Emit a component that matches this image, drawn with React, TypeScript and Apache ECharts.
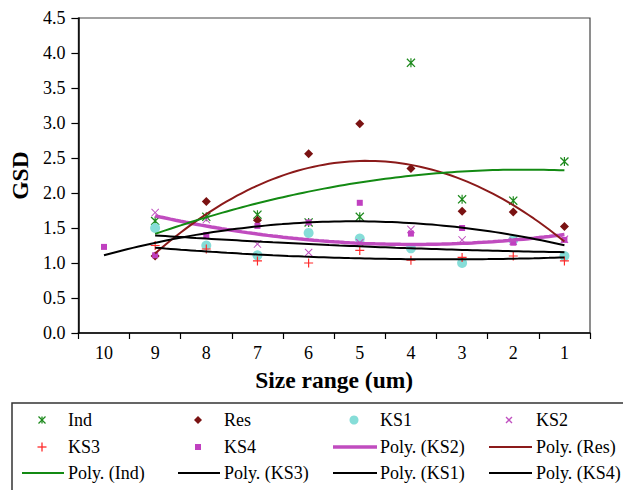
import React, { useEffect, useRef } from 'react';
import * as echarts from 'echarts';

const categories = ['10', '9', '8', '7', '6', '5', '4', '3', '2', '1'];
const indValues = [null, 1.60, 1.66, 1.69, 1.58, 1.66, 3.86, 1.91, 1.89, 2.45];
const resValues = [null, 1.10, 1.88, 1.61, 2.56, 2.99, 2.35, 1.74, 1.73, 1.52];
const ks1Values = [null, 1.50, 1.25, 1.11, 1.43, 1.35, 1.21, 1.00, 1.33, 1.10];
const ks2Values = [null, 1.72, 1.62, 1.27, 1.15, 1.29, 1.48, 1.33, 1.31, 1.34];
const ks3Values = [null, 1.25, 1.20, 1.03, 1.00, 1.18, 1.04, 1.08, 1.10, 1.03];
const ks4Values = [1.23, 1.11, 1.40, 1.53, 1.58, 1.86, 1.42, 1.50, 1.29, 1.33];

const FONT = 'Liberation Serif';

const C_IND = '#1d8a1d';
const C_RES = '#7a1212';
const C_KS1 = '#86ddd8';
const C_KS2 = '#c050c0';
const C_KS3 = '#ff2a2a';
const C_KS4 = '#c040c0';
const C_TKS2 = '#c04cbf';
const C_TRES = '#8b1a1a';
const C_TIND = '#138a13';

const STAR = 'path://M0,1L1,0L5,4L9,0L10,1L6,5L10,9L9,10L5,6L1,10L0,9L4,5ZM4.35,0H5.65V10H4.35Z';
const CROSS = 'path://M0,0.9L0.9,0L5,4.1L9.1,0L10,0.9L5.9,5L10,9.1L9.1,10L5,5.9L0.9,10L0,9.1L4.1,5Z';
const PLUS = 'path://M4.35,0H5.65V4.35H10V5.65H5.65V10H4.35V5.65H0V4.35H4.35Z';

function toPoints(vals: (number | null)[]) {
  const pts: number[][] = [];
  vals.forEach((v, i) => {
    if (v != null) pts.push([i + 0.5, v]);
  });
  return pts;
}

function det3(m: number[][]) {
  return (
    m[0][0] * (m[1][1] * m[2][2] - m[1][2] * m[2][1]) -
    m[0][1] * (m[1][0] * m[2][2] - m[1][2] * m[2][0]) +
    m[0][2] * (m[1][0] * m[2][1] - m[1][1] * m[2][0])
  );
}

// Excel-style order-2 polynomial trendline computed from the series values
function polyTrend(vals: (number | null)[]) {
  const pts = toPoints(vals);
  let s0 = 0, s1 = 0, s2 = 0, s3 = 0, s4 = 0, t0 = 0, t1 = 0, t2 = 0;
  for (const [x, y] of pts) {
    s0 += 1; s1 += x; s2 += x * x; s3 += x * x * x; s4 += x * x * x * x;
    t0 += y; t1 += x * y; t2 += x * x * y;
  }
  const M = [[s0, s1, s2], [s1, s2, s3], [s2, s3, s4]];
  const D = det3(M);
  const rhs = [t0, t1, t2];
  const coef = [0, 1, 2].map((k) => {
    const mk = M.map((row, r) => row.map((v, c) => (c === k ? rhs[r] : v)));
    return det3(mk) / D;
  });
  const x0 = pts[0][0];
  const x1 = pts[pts.length - 1][0];
  const out: number[][] = [];
  const steps = 80;
  for (let i = 0; i <= steps; i++) {
    const x = x0 + ((x1 - x0) * i) / steps;
    out.push([x, coef[0] + coef[1] * x + coef[2] * x * x]);
  }
  return out;
}

// legend layout (custom, Excel-like 4-column table)
const legendColText = [68, 224, 380, 536];
const legendColMarker = [42, 198, 354, 509];
const legendColLine = [[22, 64], [178, 220], [333, 377], [489, 532]];
const legendRowY = [420, 447, 473];

function legendText(text: string, col: number, row: number) {
  return {
    type: 'text',
    x: legendColText[col],
    y: legendRowY[row],
    style: { text, fontFamily: FONT, fontSize: 18, fill: '#000', verticalAlign: 'middle', align: 'left' },
  };
}
function legendLine(col: number, row: number, color: string, width: number) {
  const [a, b] = legendColLine[col];
  return {
    type: 'line',
    shape: { x1: a, y1: legendRowY[row], x2: b, y2: legendRowY[row] },
    style: { stroke: color, lineWidth: width },
  };
}
function legendX(col: number, row: number, color: string, r: number, withVertical: boolean, withDiag: boolean, withPlus: boolean) {
  const cx = legendColMarker[col];
  const cy = legendRowY[row];
  const children: any[] = [];
  if (withDiag) {
    children.push({ type: 'line', shape: { x1: cx - r, y1: cy - r, x2: cx + r, y2: cy + r }, style: { stroke: color, lineWidth: 1.3 } });
    children.push({ type: 'line', shape: { x1: cx + r, y1: cy - r, x2: cx - r, y2: cy + r }, style: { stroke: color, lineWidth: 1.3 } });
  }
  if (withVertical || withPlus) {
    children.push({ type: 'line', shape: { x1: cx, y1: cy - r, x2: cx, y2: cy + r }, style: { stroke: color, lineWidth: 1.3 } });
  }
  if (withPlus) {
    children.push({ type: 'line', shape: { x1: cx - r, y1: cy, x2: cx + r, y2: cy }, style: { stroke: color, lineWidth: 1.3 } });
  }
  return { type: 'group', children };
}

export default function App() {
  const ref = useRef<HTMLDivElement>(null);
  useEffect(() => {
    if (!ref.current) return;
    const chart = echarts.init(ref.current, null, { renderer: 'svg' });

    const scatter = (name: string, vals: (number | null)[], symbol: string, size: number, color: string) => ({
      name,
      type: 'scatter',
      xAxisIndex: 1,
      data: toPoints(vals),
      symbol,
      symbolSize: size,
      itemStyle: { color, opacity: 1 },
      z: 2,
    });
    const trend = (name: string, vals: (number | null)[], color: string, width: number) => ({
      name,
      type: 'line',
      xAxisIndex: 1,
      data: polyTrend(vals),
      showSymbol: false,
      symbol: 'none',
      smooth: false,
      lineStyle: { color, width },
      itemStyle: { color },
      z: 3,
    });

    const legendGraphics: any[] = [
      {
        type: 'rect',
        shape: { x: 12, y: 403, width: 640, height: 120 },
        style: { fill: 'none', stroke: '#333', lineWidth: 1.5 },
      },
      // row 0
      legendX(0, 0, C_IND, 3.5, true, true, false),
      legendText('Ind', 0, 0),
      {
        type: 'polygon',
        shape: { points: [[198, 416], [202, 420], [198, 424], [194, 420]] },
        style: { fill: C_RES },
      },
      legendText('Res', 1, 0),
      { type: 'circle', shape: { cx: 354, cy: 420, r: 4.5 }, style: { fill: C_KS1 } },
      legendText('KS1', 2, 0),
      legendX(3, 0, C_KS2, 3, false, true, false),
      legendText('KS2', 3, 0),
      // row 1
      legendX(0, 1, C_KS3, 4.5, false, false, true),
      legendText('KS3', 0, 1),
      { type: 'rect', shape: { x: 195, y: 444, width: 6, height: 6 }, style: { fill: C_KS4 } },
      legendText('KS4', 1, 1),
      legendLine(2, 1, C_TKS2, 3.5),
      legendText('Poly. (KS2)', 2, 1),
      legendLine(3, 1, C_TRES, 2),
      legendText('Poly. (Res)', 3, 1),
      // row 2
      legendLine(0, 2, C_TIND, 2),
      legendText('Poly. (Ind)', 0, 2),
      legendLine(1, 2, '#000', 2),
      legendText('Poly. (KS3)', 1, 2),
      legendLine(2, 2, '#000', 2),
      legendText('Poly. (KS1)', 2, 2),
      legendLine(3, 2, '#000', 2),
      legendText('Poly. (KS4)', 3, 2),
    ];

    chart.setOption({
      animation: false,
      backgroundColor: '#fff',
      textStyle: { fontFamily: FONT },
      grid: {
        left: 75,
        right: 33,
        top: 18,
        bottom: 157,
        show: true,
        borderColor: '#444',
        borderWidth: 1.2,
        backgroundColor: 'transparent',
      },
      xAxis: [
        {
          type: 'category',
          data: categories,
          boundaryGap: true,
          name: 'Size range (um)',
          nameLocation: 'middle',
          nameGap: 35,
          nameTextStyle: { fontFamily: FONT, fontSize: 23.5, fontWeight: 'bold', color: '#000' },
          axisLine: { show: true, lineStyle: { color: '#000', width: 1.5 } },
          axisTick: { show: true, alignWithLabel: false, length: 6, lineStyle: { color: '#000', width: 1.2 } },
          axisLabel: { fontFamily: FONT, fontSize: 18, color: '#000', margin: 11, interval: 0 },
          splitLine: { show: false },
        },
        {
          type: 'value',
          min: 0,
          max: 10,
          show: false,
          splitLine: { show: false },
        },
      ],
      yAxis: {
        type: 'value',
        min: 0,
        max: 4.5,
        interval: 0.5,
        name: 'GSD',
        nameLocation: 'middle',
        nameRotate: 90,
        nameGap: 44,
        nameTextStyle: { fontFamily: FONT, fontSize: 23.5, fontWeight: 'bold', color: '#000' },
        axisLine: { show: true, lineStyle: { color: '#000', width: 1.5 } },
        axisTick: { show: true, length: 7, lineStyle: { color: '#000', width: 1.2 } },
        axisLabel: {
          fontFamily: FONT,
          fontSize: 18,
          color: '#000',
          margin: 13,
          formatter: (v: number) => v.toFixed(1),
        },
        splitLine: { show: false },
      },
      graphic: [{ type: 'group', silent: true, children: legendGraphics }],
      series: [
        scatter('Ind', indValues, STAR, 9, C_IND),
        scatter('Res', resValues, 'diamond', 9, C_RES),
        scatter('KS1', ks1Values, 'circle', 10, C_KS1),
        scatter('KS2', ks2Values, CROSS, 8, C_KS2),
        scatter('KS3', ks3Values, PLUS, 9, C_KS3),
        scatter('KS4', ks4Values, 'rect', 6, C_KS4),
        trend('Poly. (KS2)', ks2Values, C_TKS2, 3.5),
        trend('Poly. (Res)', resValues, C_TRES, 2),
        trend('Poly. (Ind)', indValues, C_TIND, 2),
        trend('Poly. (KS3)', ks3Values, '#000', 2),
        trend('Poly. (KS1)', ks1Values, '#000', 2),
        trend('Poly. (KS4)', ks4Values, '#000', 2),
      ],
    });
    return () => chart.dispose();
  }, []);

  return <div ref={ref} style={{ width: 623, height: 490, position: 'absolute', left: 0, top: 0 }} />;
}
